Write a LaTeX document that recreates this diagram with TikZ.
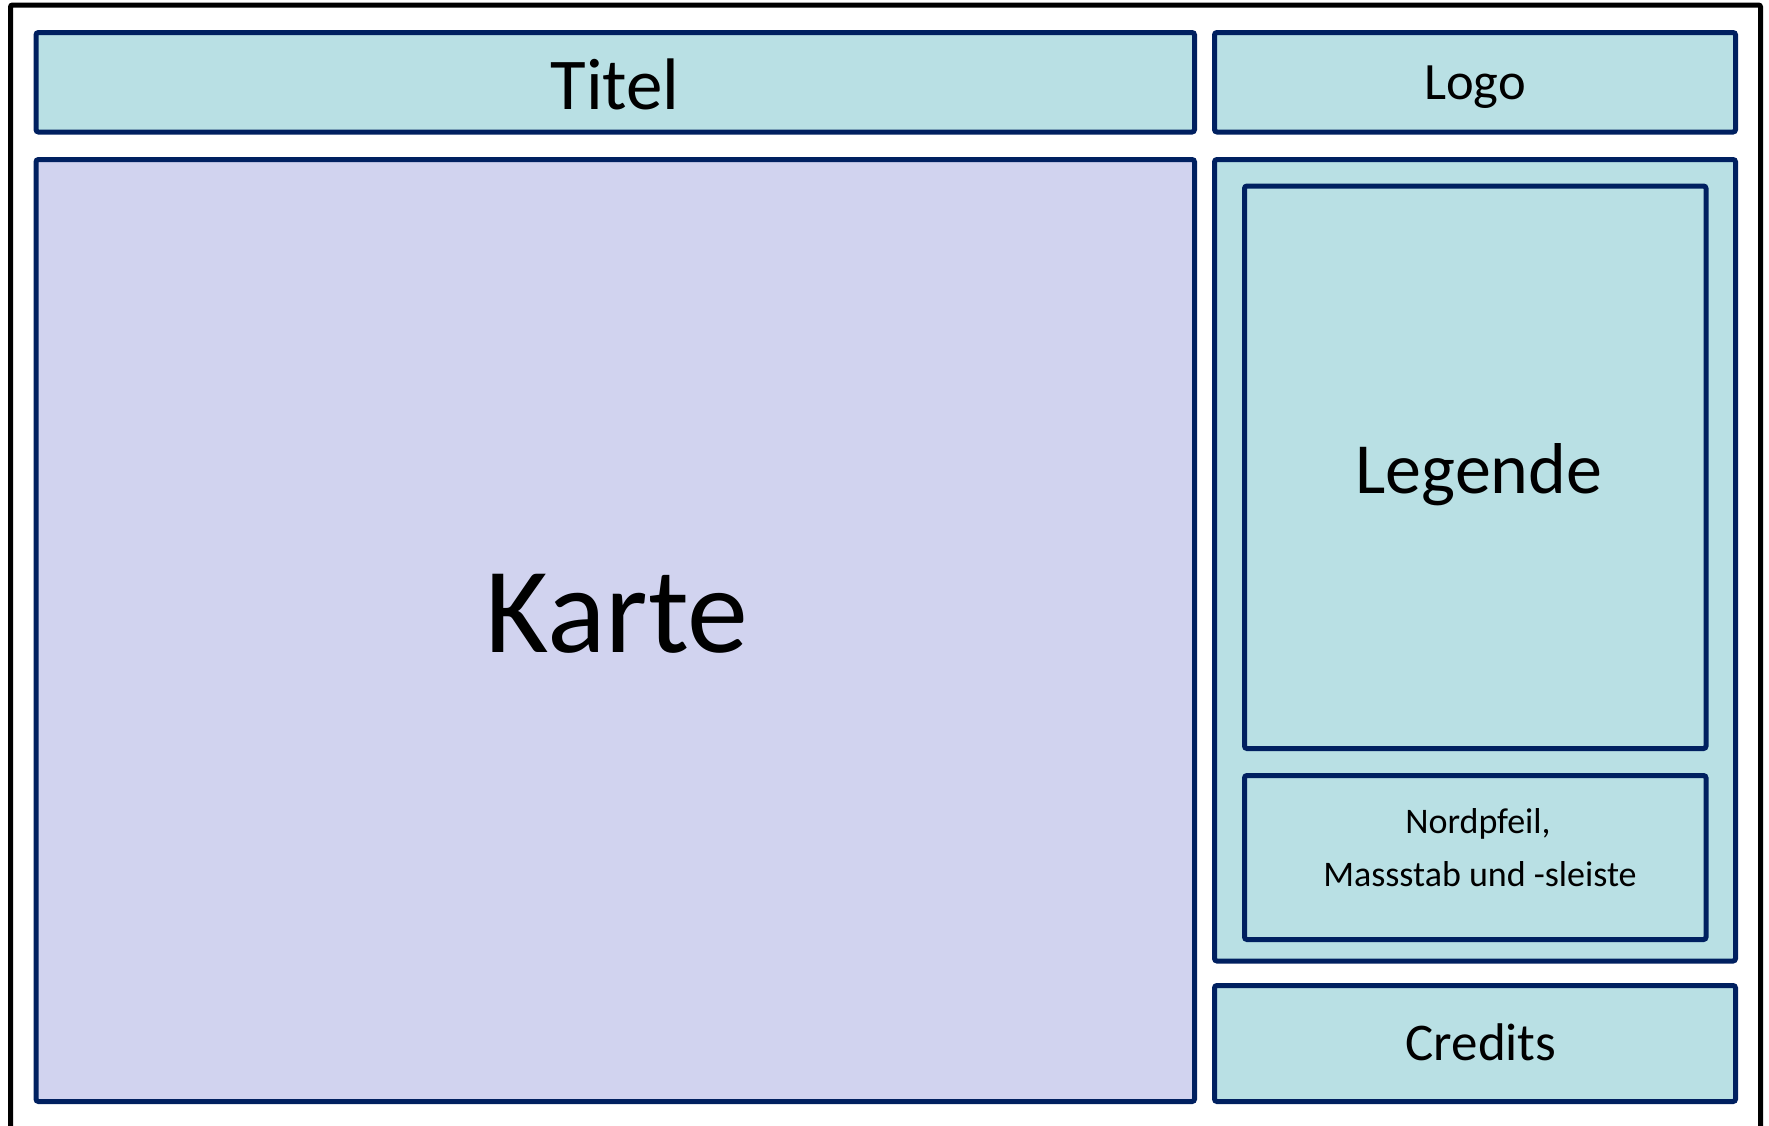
\documentclass[tikz,border=0pt]{standalone}
\usepackage{fontspec}
\setmainfont{Carlito}
\definecolor{teal}{HTML}{B9E0E4}
\definecolor{lav}{HTML}{D1D3EF}
\definecolor{navy}{HTML}{002060}
\tikzset{
  panel/.style={draw=navy, line width=5pt, rounded corners=2.5pt, fill=teal},
  mappanel/.style={panel, fill=lav},
  lbl/.style={anchor=base, inner sep=0pt, text=black},
}
\begin{document}
\begin{tikzpicture}[x=1pt,y=-1pt]
\useasboundingbox (0,0) rectangle (1769,1125);
\clip (0,0) rectangle (1769,1125);
\fill[white] (0,0) rectangle (1769,1125);
\draw[black, line width=5pt, rounded corners=2pt] (10.5,5) rectangle (1760.5,1160);
% boxes
\draw[panel] (36,32.5) rectangle (1194.5,132);
\draw[panel] (1214.5,32.5) rectangle (1735.5,132);
\draw[mappanel] (36,159.5) rectangle (1194.5,1101.5);
\draw[panel] (1214.5,159.5) rectangle (1735.5,961);
\draw[panel] (1244.5,186) rectangle (1706,748.5);
\draw[panel] (1244.5,775.5) rectangle (1706,939.5);
\draw[panel] (1214.5,985.5) rectangle (1735.5,1101.5);
% labels
\node[lbl, font=\fontsize{73}{80}\selectfont] (titel) at (615,109.5) {Titel};
\node[lbl, font=\fontsize{52.5}{60}\selectfont] (logo) at (1475,99) {Logo};
\node[lbl, font=\fontsize{122}{135}\selectfont] (karte) at (617,652) {Karte};
\node[lbl, font=\fontsize{72}{80}\selectfont] (legende) at (1479,493) {Legende};
\node[lbl, font=\fontsize{36}{40}\selectfont] (nord1) at (1478,833) {Nordpfeil,};
\node[lbl, font=\fontsize{36}{40}\selectfont] (nord2) at (1480,886) {Massstab und -sleiste};
\node[lbl, font=\fontsize{53}{60}\selectfont] (credits) at (1481,1060.5) {Credits};
\end{tikzpicture}
\end{document}
